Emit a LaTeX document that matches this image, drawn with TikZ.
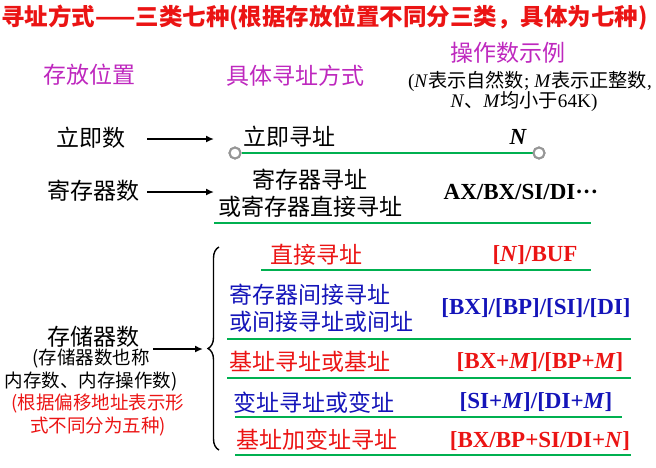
\documentclass[tikz,border=0pt]{standalone}
\usepackage{fontspec}
\setmainfont{Liberation Serif}
\newfontfamily\cjk{Noto Sans CJK SC}
\usetikzlibrary{arrows.meta,decorations.pathreplacing}
\definecolor{hdred}{RGB}{235,20,20}
\definecolor{hdmag}{RGB}{190,40,190}
\definecolor{rowblue}{RGB}{20,20,185}
\definecolor{rulegreen}{RGB}{0,176,80}
\definecolor{knob}{RGB}{150,150,150}
\begin{document}
\begin{tikzpicture}[x=1pt,y=-1pt,
  lbl/.style={inner sep=0pt, font=\cjk\fontsize{23}{27}\selectfont},
  small/.style={inner sep=0pt, font=\cjk\fontsize{18.5}{23}\selectfont},
  opnd/.style={inner sep=0pt, font=\fontsize{23}{27}\selectfont\bfseries},
  rule/.style={draw=rulegreen, line width=2.6pt},
  pointer/.style={line width=1.8pt, -{Latex[length=8pt,width=7pt]}},
  knobstyle/.style={circle, draw=knob, fill=white, line width=2pt, minimum size=11pt, inner sep=0pt}]
\useasboundingbox (0,0) rectangle (656,467);

% heading
\node[lbl, anchor=west, text=hdred, font=\cjk\bfseries\fontsize{23.5}{27}\selectfont] (title) at (1,18)
  {寻址方式——三类七种(根据存放位置不同分三类，具体为七种)};
\node[lbl, text=hdmag] (colpos) at (89,75) {存放位置};
\node[lbl, text=hdmag] (colmode) at (295,76) {具体寻址方式};
\node[lbl, text=hdmag] (colex) at (508,53) {操作数示例};
\node[inner sep=0pt, font=\fontsize{19.2}{22}\selectfont] (note1) at (530,81)
  {(\textit{N}{\cjk 表示自然数}; \textit{M}{\cjk 表示正整数},};
\node[inner sep=0pt, font=\fontsize{19.2}{22}\selectfont] (note2) at (524,101)
  {\textit{N}{\cjk 、}\textit{M}{\cjk 均小于}64K)};

% immediate operand
\node[lbl] (imm) at (91,138) {立即数};
\coordinate (immA) at (147,139);
\coordinate (immB) at (214,139);
\draw[pointer] (immA) -- (immB);
\node[lbl, anchor=west] (immmode) at (243,137) {立即寻址};
\node[opnd, font=\fontsize{23}{27}\selectfont\bfseries\itshape] (immex) at (518,137) {N};
\node[knobstyle] (k1) at (235,153) {};
\node[knobstyle] (k2) at (539,153) {};
\draw[rule] (k1) -- (k2);
\node[knobstyle] at (235,153) {};
\node[knobstyle] at (539,153) {};

% register operand
\node[lbl] (reg) at (93,191) {寄存器数};
\coordinate (regA) at (147,192);
\coordinate (regB) at (214,192);
\draw[pointer] (regA) -- (regB);
\node[lbl, align=center] (regmode) at (310,193.5) {寄存器寻址\\或寄存器直接寻址};
\node[opnd] (regex) at (521,192) {AX/BX/SI/DI\textperiodcentered\textperiodcentered\textperiodcentered};
\coordinate (r2a) at (214,223);
\coordinate (r2b) at (591,223);
\draw[rule] (r2a) -- (r2b);

% memory operand
\node[lbl] (mem) at (93.5,337) {存储器数};
\node[small, align=center] (memnote) at (91,370) {(存储器数也称\\内存数、内存操作数)};
\node[small, align=center, text=hdred] (memsplit) at (98,415) {(根据偏移地址表示形\\式不同分为五种)};
\coordinate (memA) at (153,349);
\coordinate (memB) at (203,349);
\draw[pointer] (memA) -- (memB);
\coordinate (brTop) at (219,247);
\coordinate (brBot) at (219,450);
\draw[line width=1.4pt, decorate, decoration={brace, amplitude=11pt, aspect=0.5}] (brBot) -- (brTop);

% five memory addressing modes
\node[lbl, text=hdred] (m1) at (316,255) {直接寻址};
\node[opnd, text=hdred] (e1) at (535,255) {[\textit{N}]/BUF};
\coordinate (g1a) at (261,270); \coordinate (g1b) at (591,270);
\draw[rule] (g1a) -- (g1b);

\node[lbl, text=rowblue, align=left, anchor=west] (m2) at (229,308.5) {寄存器间接寻址\\或间接寻址或间址};
\node[opnd, text=rowblue] (e2) at (536,308) {[BX]/[BP]/[SI]/[DI]};
\coordinate (g2a) at (227,339); \coordinate (g2b) at (631,339);
\draw[rule] (g2a) -- (g2b);

\node[lbl, text=hdred, anchor=west] (m3) at (229,362) {基址寻址或基址};
\node[opnd, text=hdred] (e3) at (540,362) {[BX+\textit{M}]/[BP+\textit{M}]};
\coordinate (g3a) at (227,378); \coordinate (g3b) at (631,378);
\draw[rule] (g3a) -- (g3b);

\node[lbl, text=rowblue, anchor=west] (m4) at (233,403) {变址寻址或变址};
\node[opnd, text=rowblue] (e4) at (536,402) {[SI+\textit{M}]/[DI+\textit{M}]};
\coordinate (g4a) at (235,417); \coordinate (g4b) at (622,417);
\draw[rule] (g4a) -- (g4b);

\node[lbl, text=hdred, anchor=west] (m5) at (236,440) {基址加变址寻址};
\node[opnd, text=hdred] (e5) at (540,441) {[BX/BP+SI/DI+\textit{N}]};
\coordinate (g5a) at (235,455); \coordinate (g5b) at (631,455);
\draw[rule] (g5a) -- (g5b);
\end{tikzpicture}
\end{document}
